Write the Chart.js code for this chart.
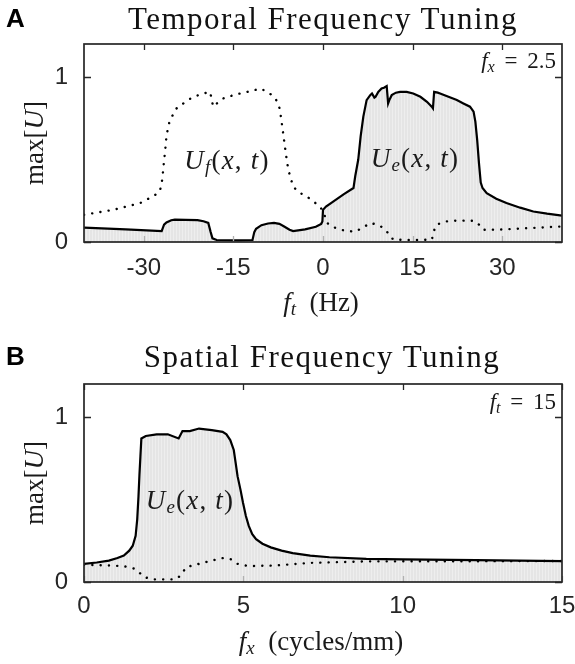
<!DOCTYPE html>
<html lang="en">
<head>
    <meta charset="UTF-8">
    <title>Temporal and Spatial Frequency Tuning</title>
    <style>
        body {
            margin: 0;
            width: 575px;
            height: 664px;
            position: relative;
            overflow: hidden;
            background: #fff;
            color: #1a1a1a;
            font-family: "Liberation Serif", "DejaVu Serif", serif;
        }

        .panel {
            position: absolute;
            left: 0;
            width: 575px;
        }

        #panelA { top: 0; height: 330px; }
        #panelB { top: 330px; height: 334px; }

        .txt {
            position: absolute;
            white-space: nowrap;
            transform: translate(-50%, -50%);
            line-height: 1;
        }

        .letter {
            font-family: "Liberation Sans", Arial, sans-serif;
            font-weight: bold;
            font-size: 26px;
            color: #000;
            transform: none;
        }

        .title { font-size: 31px; letter-spacing: 1.5px; color: #111; }
        .axis-title { font-size: 27px; }
        .ylab { transform: translate(-50%, -50%) rotate(-90deg); }
        .note { font-size: 27px; letter-spacing: 1.2px; }
        .param { font-size: 23px; transform: translate(-100%, -50%); word-spacing: 4px; }
        sub { font-size: 0.7em; vertical-align: -0.25em; line-height: 0; }
        i { font-style: italic; }
    </style>
</head>
<body>
    <div class="panel" id="panelA"><canvas id="chartA" width="575" height="330"></canvas></div>
    <div class="panel" id="panelB"><canvas id="chartB" width="575" height="334"></canvas></div>

    <!-- labels, titles and annotations -->
    <div class="txt letter" style="left:6px; top:5px;">A</div>
    <div class="txt title" style="left:323px; top:18px;">Temporal Frequency Tuning</div>
    <div class="txt axis-title ylab" style="left:34px; top:143px;">max[<i>U</i>]</div>
    <div class="txt axis-title" style="left:321px; top:302px;"><i>f</i><sub><i>t</i></sub>&nbsp; (Hz)</div>
    <div class="txt note" style="left:227px; top:160px;"><i>U</i><sub><i>f</i></sub>(<i>x</i>, <i>t</i>)</div>
    <div class="txt note" style="left:415px; top:158px;"><i>U</i><sub><i>e</i></sub>(<i>x</i>, <i>t</i>)</div>
    <div class="txt param" style="left:556px; top:60px;"><i>f</i><sub><i>x</i></sub> = 2.5</div>

    <div class="txt letter" style="left:6px; top:343px;">B</div>
    <div class="txt title" style="left:322px; top:356px;">Spatial Frequency Tuning</div>
    <div class="txt axis-title ylab" style="left:34px; top:483px;">max[<i>U</i>]</div>
    <div class="txt axis-title" style="left:321px; top:641px;"><i>f</i><sub><i>x</i></sub>&nbsp; (cycles/mm)</div>
    <div class="txt note" style="left:190px; top:500px;"><i>U</i><sub><i>e</i></sub>(<i>x</i>, <i>t</i>)</div>
    <div class="txt param" style="left:556px; top:401px;"><i>f</i><sub><i>t</i></sub> = 15</div>

    <script src="https://cdn.jsdelivr.net/npm/chart.js"></script>
    <script>
        // ---- panel A: temporal frequency tuning (f_x = 2.5) ----
        const tempTicks = [-30, -15, 0, 15, 30];
        const tempUeX = [-40, -33, -27.0, -26.6, -26.2, -25.4, -24.8, -23, -21, -20.0, -19.2, -18.8, -18.5, -17.8, -14, -11.8,
            -11.5, -11.2, -10.3, -9.2, -8.2, -7.3, -6.5, -5.6, -5.0, -3, -1.2, -0.3, -0.1, 0.0, 0.5, 1.7, 3.5, 5.1, 5.4,
            5.9, 6.3, 6.75, 7.3, 7.9, 8.2, 8.6, 8.8, 9.25, 9.8, 10.2, 10.66, 10.9, 11.1, 11.5, 12.2, 12.9, 14, 15.1,
            16.3, 17.4, 18.2, 18.4, 18.6, 19.2, 19.6, 21, 22.4, 23.5, 24.6, 25.2, 25.5, 25.8, 26.1, 26.4, 26.7, 27.4,
            29, 30.7, 33, 35.2, 37.5, 40];
        const tempUeY = [0.087, 0.077, 0.066, 0.105, 0.118, 0.132, 0.136, 0.134, 0.133, 0.126, 0.116, 0.06, 0.022, 0.012, 0.010, 0.012,
            0.06, 0.080, 0.102, 0.112, 0.116, 0.110, 0.094, 0.074, 0.066, 0.077, 0.092, 0.11, 0.125, 0.195, 0.215, 0.245, 0.29, 0.327, 0.40,
            0.50, 0.64, 0.76, 0.86, 0.89, 0.90, 0.875, 0.88, 0.91, 0.93, 0.935, 0.945, 0.84, 0.86, 0.89, 0.905, 0.91, 0.91, 0.90,
            0.88, 0.85, 0.82, 0.81, 0.91, 0.905, 0.90, 0.88, 0.86, 0.84, 0.82, 0.79, 0.73, 0.62, 0.48, 0.36, 0.327, 0.296,
            0.262, 0.236, 0.208, 0.185, 0.172, 0.16];
        const tempUfX = [-40, -35.1, -30.6, -28.3, -27.3, -26.9, -26.7, -26.4, -26.2, -25.9, -25.6, -24.5, -23, -21.7, -20, -18.9,
            -18.6, -18.4, -17.6, -16.7, -15, -13.9, -12, -10.5, -9.6, -8.9, -8.0, -7.5, -7.2, -6.9, -6.6, -6.2, -5.8, -5.0,
            -4.0, -2.7, -1.4, -0.5, 0.0, 0.33, 0.7, 1.7, 3.5, 5.35, 6.8, 7.9, 8.8, 9.5, 10.3, 10.9, 11.5, 11.8, 15, 18.2,
            18.5, 18.75, 19.5, 20.7, 22.5, 25.2, 26, 26.8, 30, 35, 40];
        const tempUfY = [0.165, 0.195, 0.236, 0.28, 0.306, 0.38, 0.457, 0.56, 0.64, 0.70, 0.74, 0.81, 0.85, 0.88, 0.90, 0.91,
            0.86, 0.82, 0.845, 0.87, 0.89, 0.90, 0.915, 0.93, 0.915, 0.90, 0.87, 0.84, 0.80, 0.72, 0.64, 0.53, 0.437, 0.336,
            0.30, 0.276, 0.24, 0.215, 0.185, 0.155, 0.115, 0.090, 0.07, 0.062, 0.09, 0.115, 0.108, 0.099, 0.08, 0.054, 0.025, 0.014, 0.012, 0.014,
            0.05, 0.094, 0.112, 0.125, 0.13, 0.129, 0.11, 0.074, 0.076, 0.085, 0.094];

        // ---- panel B: spatial frequency tuning (f_t = 15) ----
        const spatTicks = [0, 5, 10, 15];
        const spatUeX = [0, 0.4, 0.78, 1.05, 1.25, 1.42, 1.53, 1.62, 1.67, 1.71, 1.74, 1.77, 1.80, 1.94, 2.28, 2.63, 2.97, 3.09,
            3.32, 3.61, 4.01, 4.35, 4.47, 4.59, 4.70, 4.76, 4.82, 4.91, 4.99, 5.08, 5.17, 5.28, 5.40, 5.6, 5.86, 6.2, 6.55,
            7.1, 7.7, 8.86, 10.0, 12.3, 15];
        const spatUeY = [0.11, 0.118, 0.13, 0.145, 0.16, 0.19, 0.22, 0.28, 0.38, 0.52, 0.65, 0.76, 0.87, 0.885, 0.895, 0.895, 0.87, 0.915,
            0.915, 0.93, 0.92, 0.91, 0.895, 0.86, 0.80, 0.72, 0.64, 0.56, 0.48, 0.40, 0.34, 0.29, 0.26, 0.232, 0.21, 0.19, 0.175,
            0.16, 0.15, 0.14, 0.137, 0.133, 0.127];
        const spatUfX = [0, 0.78, 1.25, 1.6, 1.75, 1.88, 2.17, 2.86, 2.97, 3.06, 3.2, 3.61, 4.01, 4.36, 4.59, 4.82, 5.17, 5.98,
            7.13, 8.86, 15];
        const spatUfY = [0.104, 0.10, 0.096, 0.08, 0.055, 0.03, 0.016, 0.016, 0.03, 0.044, 0.09, 0.11, 0.13, 0.145, 0.14, 0.11, 0.096, 0.10,
            0.116, 0.125, 0.127];

        const yTicks = [0, 1];

        function toPoints(xs, ys) {
            return xs.map((x, i) => ({ x: x, y: ys[i] }));
        }

        // light gray fill with faint vertical stripes
        function stripePattern() {
            const c = document.createElement('canvas');
            c.width = 3;
            c.height = 4;
            const g = c.getContext('2d');
            g.fillStyle = '#e5e5e5';
            g.fillRect(0, 0, 3, 4);
            g.fillStyle = '#eeeeee';
            g.fillRect(2, 0, 1, 4);
            return g.createPattern(c, 'repeat');
        }

        // box around the plot with inward ticks on all sides
        const boxPlugin = {
            id: 'box',
            afterDatasetsDraw(chart, args, opts) {
                const { ctx, chartArea: a, scales: { x, y } } = chart;
                ctx.save();
                ctx.lineWidth = 1.3;
                ctx.strokeStyle = '#262626';
                ctx.beginPath();
                opts.xTicks.forEach(v => {
                    const px = Math.round(x.getPixelForValue(v)) + 0.5;
                    ctx.moveTo(px, a.top);
                    ctx.lineTo(px, a.top + 6);
                });
                yTicks.forEach(v => {
                    const py = Math.round(y.getPixelForValue(v)) + 0.5;
                    ctx.moveTo(a.left, py);
                    ctx.lineTo(a.left + 7, py);
                    ctx.moveTo(a.right, py);
                    ctx.lineTo(a.right - 7, py);
                });
                ctx.stroke();
                ctx.strokeStyle = '#b0b0b0';
                ctx.beginPath();
                opts.xTicks.forEach(v => {
                    const px = Math.round(x.getPixelForValue(v)) + 0.5;
                    ctx.moveTo(px, a.bottom);
                    ctx.lineTo(px, a.bottom - 6);
                });
                ctx.stroke();
                ctx.strokeStyle = '#262626';
                ctx.lineWidth = 1.7;
                ctx.strokeRect(a.left, a.top, a.right - a.left, a.bottom - a.top);
                ctx.restore();
            }
        };

        function makeChart(id, cfg) {
            const ctx = document.getElementById(id).getContext('2d');
            return new Chart(ctx, {
                type: 'line',
                data: {
                    datasets: [
                        {
                            data: toPoints(cfg.ueX, cfg.ueY),
                            borderColor: '#000',
                            borderWidth: 2.2,
                            backgroundColor: stripePattern(),
                            fill: 'origin',
                            pointRadius: 0,
                            tension: 0,
                            order: 1
                        },
                        {
                            data: toPoints(cfg.ufX, cfg.ufY),
                            borderColor: '#000',
                            borderWidth: 2.4,
                            borderDash: [0.1, 8.2],
                            borderCapStyle: 'round',
                            fill: false,
                            pointRadius: 0,
                            tension: 0,
                            order: 0
                        }
                    ]
                },
                options: {
                    responsive: false,
                    animation: false,
                    layout: { padding: { left: 0, right: 13, top: cfg.top, bottom: 0 } },
                    plugins: {
                        legend: { display: false },
                        tooltip: { enabled: false },
                        box: { xTicks: cfg.ticks }
                    },
                    scales: {
                        x: {
                            type: 'linear',
                            min: cfg.min,
                            max: cfg.max,
                            grid: { display: false, drawTicks: false },
                            border: { display: false },
                            afterBuildTicks: s => { s.ticks = cfg.ticks.map(v => ({ value: v })); },
                            afterFit: s => { s.height = cfg.xh; s.paddingLeft = 0; s.paddingRight = 0; },
                            ticks: {
                                autoSkip: false,
                                maxRotation: 0,
                                padding: cfg.tickPad,
                                color: '#262626',
                                font: { family: '"Liberation Sans", Arial, sans-serif', size: 24 }
                            }
                        },
                        y: {
                            min: 0,
                            max: 1.2,
                            grid: { display: false, drawTicks: false },
                            border: { display: false },
                            afterBuildTicks: s => { s.ticks = yTicks.map(v => ({ value: v })); },
                            afterFit: s => { s.width = 84; },
                            ticks: {
                                padding: 16,
                                color: '#262626',
                                font: { family: '"Liberation Sans", Arial, sans-serif', size: 24 }
                            }
                        }
                    }
                },
                plugins: [boxPlugin]
            });
        }

        makeChart('chartA', {
            ueX: tempUeX, ueY: tempUeY, ufX: tempUfX, ufY: tempUfY,
            ticks: tempTicks, min: -40, max: 40, top: 44, xh: 88, tickPad: 12
        });

        makeChart('chartB', {
            ueX: spatUeX, ueY: spatUeY, ufX: spatUfX, ufY: spatUfY,
            ticks: spatTicks, min: 0, max: 15, top: 54, xh: 82, tickPad: 10
        });
    </script>
</body>
</html>
